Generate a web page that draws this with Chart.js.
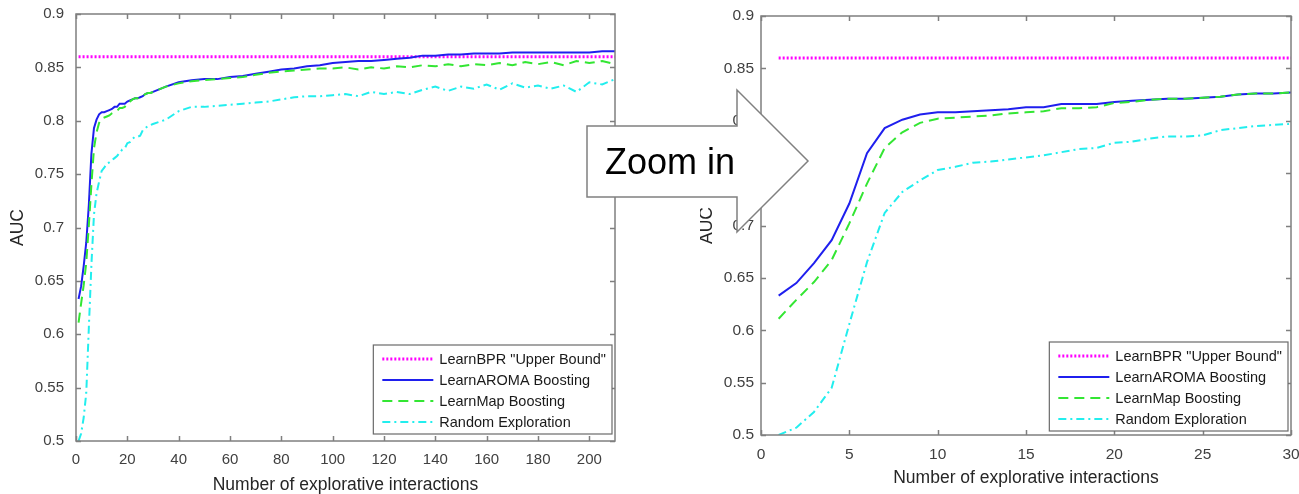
<!DOCTYPE html>
<html>
<head>
<meta charset="utf-8">
<script src="https://cdn.jsdelivr.net/npm/chart.js@4.4.1/dist/chart.umd.min.js"></script>
<style>
  html, body { margin: 0; padding: 0; background: #fff; }
  #wrap { position: relative; width: 1299px; height: 494px; overflow: hidden; }
  #leftChart { position: absolute; left: 0; top: 0; }
  #rightChart { position: absolute; left: 700px; top: 0; }
  #arrow { position: absolute; left: 0; top: 0; pointer-events: none; }
</style>
</head>
<body>
<div id="wrap">
  <canvas id="leftChart" width="640" height="494"></canvas>
  <canvas id="rightChart" width="599" height="494"></canvas>
  <svg id="arrow" width="1299" height="494">
    <polygon points="587,126 737,126 737,90 808,161 737,232 737,197 587,197"
             fill="#fff" stroke="#808080" stroke-width="1.5" stroke-linejoin="miter"/>
    <text x="605" y="174" font-family="Liberation Sans, Arial, sans-serif" font-size="36" fill="#000">Zoom in</text>
  </svg>
</div>
<script>
// first 30 interactions (also shown in the zoomed chart)
const zoomX = [1, 2, 3, 4, 5, 6, 7, 8, 9, 10, 11, 12, 13, 14, 15,
  16, 17, 18, 19, 20, 21, 22, 23, 24, 25, 26, 27, 28, 29, 30];
const zoomAroma = [0.633, 0.645, 0.664, 0.686, 0.721, 0.769, 0.793, 0.801, 0.806, 0.808,
  0.808, 0.809, 0.810, 0.811, 0.813, 0.813, 0.816, 0.816, 0.816, 0.818,
  0.819, 0.820, 0.821, 0.821, 0.822, 0.823, 0.825, 0.826, 0.826, 0.827];
const zoomMap = [0.611, 0.629, 0.646, 0.667, 0.702, 0.740, 0.774, 0.789, 0.798, 0.802,
  0.803, 0.804, 0.805, 0.807, 0.808, 0.809, 0.812, 0.812, 0.813, 0.817,
  0.818, 0.820, 0.821, 0.821, 0.822, 0.823, 0.825, 0.826, 0.826, 0.827];
const zoomRandom = [0.500, 0.507, 0.522, 0.545, 0.606, 0.665, 0.712, 0.732, 0.743, 0.753,
  0.756, 0.760, 0.761, 0.763, 0.765, 0.767, 0.770, 0.773, 0.774, 0.779,
  0.780, 0.783, 0.785, 0.785, 0.786, 0.791, 0.793, 0.795, 0.796, 0.797];

// rest of the run, read every 5 interactions
const tailX = [35, 40, 45, 50, 55, 60, 65, 70, 75, 80, 85, 90, 95, 100, 105, 110, 115, 120,
  125, 130, 135, 140, 145, 150, 155, 160, 165, 170, 175, 180, 185, 190, 195, 200, 205, 210];
const tailAroma = [0.832, 0.836, 0.838, 0.839, 0.839, 0.841, 0.842, 0.844, 0.846, 0.848, 0.849, 0.851,
  0.852, 0.854, 0.855, 0.856, 0.856, 0.857, 0.858, 0.859, 0.861, 0.861, 0.862, 0.862,
  0.863, 0.863, 0.863, 0.864, 0.864, 0.864, 0.864, 0.864, 0.864, 0.864, 0.865, 0.865];
const tailMap = [0.832, 0.835, 0.837, 0.838, 0.839, 0.840, 0.841, 0.843, 0.845, 0.846, 0.847, 0.848,
  0.849, 0.849, 0.850, 0.848, 0.850, 0.849, 0.851, 0.850, 0.852, 0.851, 0.853, 0.851,
  0.853, 0.852, 0.854, 0.852, 0.855, 0.853, 0.855, 0.852, 0.856, 0.854, 0.856, 0.853];
const tailRandom = [0.801, 0.809, 0.813, 0.813, 0.814, 0.815, 0.816, 0.817, 0.818, 0.820, 0.822, 0.823,
  0.823, 0.824, 0.825, 0.823, 0.827, 0.825, 0.827, 0.825, 0.829, 0.832, 0.828, 0.832,
  0.830, 0.834, 0.829, 0.835, 0.831, 0.833, 0.830, 0.833, 0.827, 0.836, 0.834, 0.839];

const upperBound = 0.86;
const seriesNames = ['LearnBPR "Upper Bound"', 'LearnAROMA Boosting', 'LearnMap Boosting', 'Random Exploration'];

const FONT = 'Liberation Sans, Arial, Helvetica, sans-serif';
Chart.defaults.font.family = FONT;
Chart.defaults.devicePixelRatio = 1;

// MATLAB-ish box with inward ticks and a legend in the lower right corner
const matlabBox = {
  id: 'matlabBox',
  afterDraw(chart, args, opts) {
    const { ctx, chartArea: a, scales } = chart;
    ctx.save();
    ctx.strokeStyle = '#7f7f7f';
    ctx.lineWidth = 1.5;
    ctx.setLineDash([]);
    ctx.strokeRect(a.left, a.top, a.right - a.left, a.bottom - a.top);
    ctx.beginPath();
    scales.x.ticks.forEach(t => {
      const px = Math.round(scales.x.getPixelForValue(t.value)) + 0.5;
      ctx.moveTo(px, a.bottom); ctx.lineTo(px, a.bottom - 5);
      ctx.moveTo(px, a.top); ctx.lineTo(px, a.top + 5);
    });
    scales.y.ticks.forEach(t => {
      const py = Math.round(scales.y.getPixelForValue(t.value)) + 0.5;
      ctx.moveTo(a.left, py); ctx.lineTo(a.left + 5, py);
      ctx.moveTo(a.right, py); ctx.lineTo(a.right - 5, py);
    });
    ctx.stroke();

    // legend
    ctx.font = '14.5px ' + FONT;
    const sets = chart.data.datasets;
    const textW = Math.max(...sets.map(d => ctx.measureText(d.label).width));
    const sampleLen = 51;
    const boxW = 9 + sampleLen + 6 + textW + 6;
    const boxH = 89;
    const bx = a.right - opts.legendRight - boxW;
    const by = a.bottom - opts.legendBottom - boxH;
    ctx.fillStyle = '#fff';
    ctx.fillRect(bx, by, boxW, boxH);
    ctx.strokeStyle = '#6a6a6a';
    ctx.lineWidth = 1.2;
    ctx.strokeRect(bx, by, boxW, boxH);
    sets.forEach((d, i) => {
      const cy = by + 14 + i * 21;
      ctx.beginPath();
      ctx.strokeStyle = d.borderColor;
      ctx.lineWidth = d.borderWidth;
      ctx.setLineDash(d.borderDash || []);
      ctx.moveTo(bx + 9, cy);
      ctx.lineTo(bx + 9 + sampleLen, cy);
      ctx.stroke();
      ctx.setLineDash([]);
      ctx.fillStyle = '#1a1a1a';
      ctx.textBaseline = 'middle';
      ctx.textAlign = 'left';
      ctx.fillText(d.label, bx + 9 + sampleLen + 6, cy + 1);
    });
    ctx.restore();
  }
};

function makeChart(id, xs, aroma, map, random, cfg) {
  const pts = vals => xs.map((x, i) => ({ x: x, y: vals[i] }));
  return new Chart(document.getElementById(id), {
    type: 'line',
    data: {
      datasets: [
        { label: seriesNames[0], data: xs.map(x => ({ x: x, y: upperBound })),
          borderColor: '#ff00ff', borderWidth: 3, borderDash: [2, 2], order: 4 },
        { label: seriesNames[1], data: pts(aroma),
          borderColor: '#1f1fee', borderWidth: 2, order: 3 },
        { label: seriesNames[2], data: pts(map),
          borderColor: '#33e633', borderWidth: 2, borderDash: [10, 6], order: 2 },
        { label: seriesNames[3], data: pts(random),
          borderColor: '#22eeee', borderWidth: 2, borderDash: [8, 4, 2, 4], order: 1 }
      ]
    },
    options: {
      responsive: false,
      animation: false,
      events: [],
      layout: { padding: cfg.padding },
      elements: { point: { radius: 0 }, line: { tension: 0, fill: false } },
      plugins: {
        legend: { display: false },
        tooltip: { enabled: false },
        matlabBox: { legendRight: cfg.legendRight, legendBottom: cfg.legendBottom }
      },
      scales: {
        x: {
          type: 'linear',
          min: 0,
          max: cfg.xMax,
          afterFit: s => { s.height = cfg.xHeight; s.paddingLeft = 0; s.paddingRight = 0; },
          grid: { display: false, drawTicks: false },
          border: { display: false },
          ticks: { stepSize: cfg.xStep, includeBounds: false, padding: cfg.xTickPad,
                   color: '#404040', font: { size: cfg.tickSize }, maxRotation: 0 },
          title: { display: true, text: 'Number of explorative interactions', color: '#262626',
                   font: { size: 17.5, lineHeight: 1 }, padding: { top: 0, bottom: cfg.xTitlePad } }
        },
        y: {
          min: 0.5,
          max: 0.9,
          afterFit: s => { s.width = cfg.yWidth; s.paddingTop = 0; s.paddingBottom = 0; },
          grid: { display: false, drawTicks: false },
          border: { display: false },
          ticks: { stepSize: 0.05, padding: cfg.yTickPad, color: '#404040', font: { size: cfg.tickSize },
                   callback: v => String(Math.round(v * 100) / 100) },
          title: { display: true, text: 'AUC', color: '#262626',
                   font: { size: 17.5, lineHeight: 1 }, padding: { top: cfg.yTitlePad, bottom: 0 } }
        }
      }
    },
    plugins: [matlabBox]
  });
}

makeChart('leftChart', zoomX.concat(tailX), zoomAroma.concat(tailAroma),
  zoomMap.concat(tailMap), zoomRandom.concat(tailRandom), {
    padding: { left: 0, right: 25, top: 14, bottom: 0 },
    yWidth: 76, xHeight: 53, xMax: 210, xStep: 20,
    xTickPad: 10, yTickPad: 12, xTitlePad: 0, yTitlePad: 9, tickSize: 15,
    legendRight: 3, legendBottom: 7
  });

makeChart('rightChart', zoomX, zoomAroma, zoomMap, zoomRandom, {
    padding: { left: 0, right: 8, top: 16, bottom: 0 },
    yWidth: 61, xHeight: 59, xMax: 30, xStep: 5,
    xTickPad: 10, yTickPad: 7, xTitlePad: 7, yTitlePad: -2, tickSize: 15.5,
    legendRight: 3, legendBottom: 4
  });
</script>
</body>
</html>
